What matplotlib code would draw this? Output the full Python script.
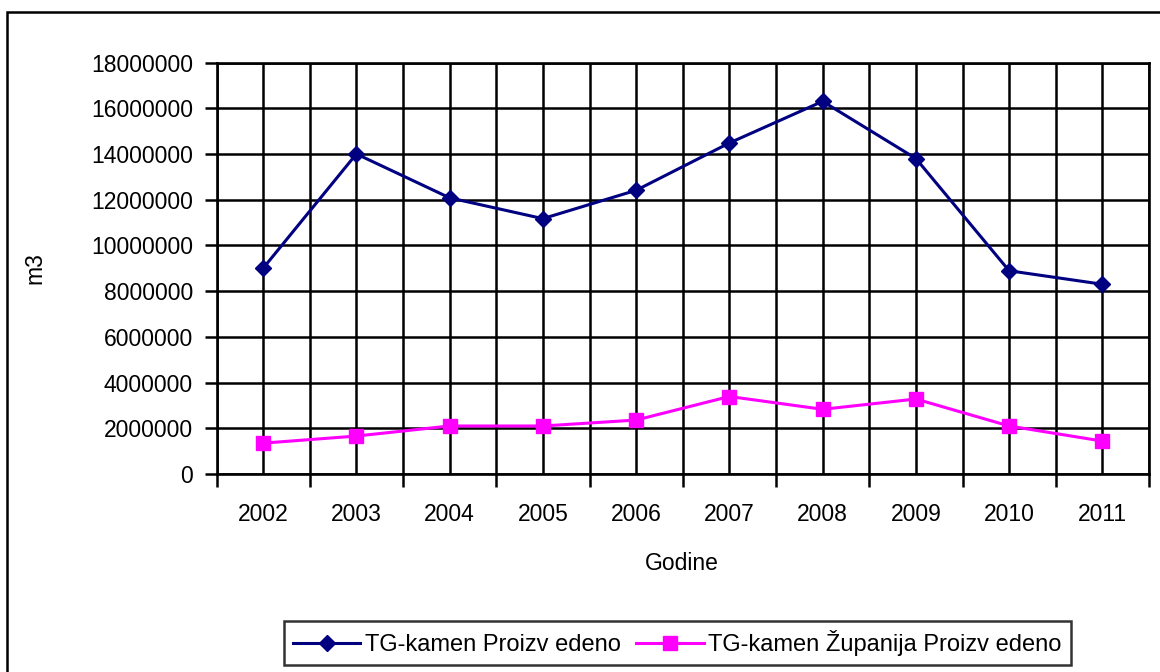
import matplotlib
matplotlib.use("Agg")
import matplotlib.pyplot as plt
from matplotlib.patches import Rectangle
from matplotlib.ticker import FixedLocator, StrMethodFormatter

plt.rcParams['font.family'] = ['Liberation Sans', 'DejaVu Sans']

years = ['2002', '2003', '2004', '2005', '2006', '2007', '2008', '2009', '2010', '2011']
proizvedeno = [9000000, 14000000, 12080000, 11170000, 12410000, 14480000, 16300000, 13800000, 8890000, 8300000]
zupanija = [1350000, 1660000, 2100000, 2100000, 2360000, 3390000, 2830000, 3280000, 2100000, 1440000]
series_names = ['TG-kamen Proizv edeno', 'TG-kamen Županija Proizv edeno']
y_ticks = [0, 2000000, 4000000, 6000000, 8000000, 10000000, 12000000, 14000000, 16000000, 18000000]

W, H = 1160, 672
FS = 16.5
LFS = 17
fig = plt.figure(figsize=(W / 100, H / 100), dpi=100)

# outer chart border
fig.patches.append(Rectangle((7 / W, -0.2), 1.2, 1 - 12 / H + 0.2, transform=fig.transFigure,
                             fill=False, edgecolor='black', linewidth=1.8, zorder=0))

left, right, top, bottom = 216.5, 1149, 62.5, 474
ax = fig.add_axes([left / W, 1 - bottom / H, (right - left) / W, (bottom - top) / H])

x = list(range(len(years)))
ax.plot(x, proizvedeno, color='#000080', marker='D', markersize=8.5, linewidth=2.2,
        label=series_names[0], zorder=3, clip_on=False)
ax.plot(x, zupanija, color='#FF00FF', marker='s', markersize=9.5, linewidth=2.2,
        label=series_names[1], zorder=3, clip_on=False)

ax.set_xlim(-0.5, len(years) - 0.5)
ax.set_ylim(0, 18000000)

# boundaries as major ticks, categories as minor ticks with labels
ax.xaxis.set_major_locator(FixedLocator([i - 0.5 for i in range(len(years) + 1)]))
ax.xaxis.set_minor_locator(FixedLocator(x))
ax.set_xticklabels([''] * (len(years) + 1))
ax.set_xticklabels(years, minor=True)
ax.tick_params(axis='x', which='major', length=9, width=1.8, color='black', direction='out')
ax.tick_params(axis='x', which='minor', length=0, pad=21, labelsize=FS)

ax.yaxis.set_major_locator(FixedLocator(y_ticks))
ax.yaxis.set_major_formatter(StrMethodFormatter('{x:.0f}'))
ax.tick_params(axis='y', which='major', length=9, width=1.8, color='black', pad=8, labelsize=FS)

ax.grid(True, which='both', axis='x', color='black', linewidth=1.8)
ax.grid(True, which='major', axis='y', color='black', linewidth=1.8)
ax.set_axisbelow(True)
for s in ax.spines.values():
    s.set_color('black')
    s.set_linewidth(1.9)

fig.text(682 / W, 1 - 563 / H, 'Godine', ha='center', va='center', fontsize=FS)
fig.text(35 / W, 1 - 268 / H, 'm3', ha='center', va='center', rotation=90, fontsize=FS)

leg = fig.legend(loc='center', bbox_to_anchor=(677.5 / W, 1 - 643 / H), ncol=2,
                 frameon=True, fancybox=False, shadow=False, fontsize=LFS,
                 handlelength=2.85, handletextpad=0.2, columnspacing=0.65,
                 borderpad=0.4, borderaxespad=0)
leg.get_frame().set_edgecolor('black')
leg.get_frame().set_linewidth(1.8)

fig.savefig('out.png', dpi=100)
